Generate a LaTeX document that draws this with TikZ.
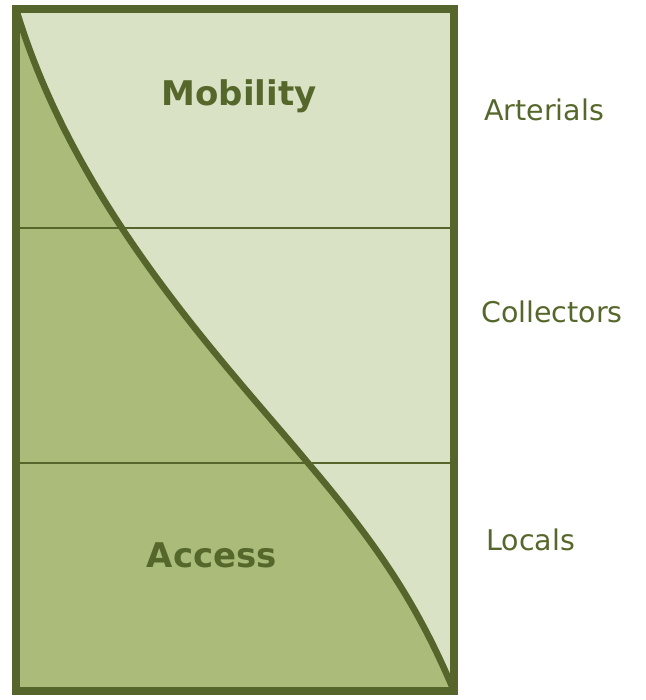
\documentclass[tikz,border=0pt]{standalone}
\usepackage{fontspec}
\setmainfont{DejaVu Sans}
\definecolor{lightfill}{HTML}{D9E2C4}
\definecolor{darkfill}{HTML}{ABBC7A}
\definecolor{edge}{HTML}{55652B}
\definecolor{ink}{HTML}{56672C}
\tikzset{
  biglabel/.style={text=ink, font=\fontsize{34}{39}\selectfont\bfseries, inner sep=0pt},
  sidelabel/.style={text=ink, font=\fontsize{28.5}{33}\selectfont, inner sep=0pt, anchor=west},
  divider/.style={draw=edge, line width=2.2pt},
  frame/.style={draw=edge, line width=8pt},
  curve/.style={draw=edge, line width=6.5pt}
}
\begin{document}
\begin{tikzpicture}[x=1pt,y=-1pt]
\useasboundingbox (0,0) rectangle (645,700);
\coordinate (tl) at (16,9);
\coordinate (br) at (454,691);
\coordinate (bl) at (16,691);
\coordinate (mid) at (308,463);
\fill[lightfill] (tl) rectangle (br);
\fill[darkfill] (bl) -- (tl) .. controls (76,209) and (225,363) .. (mid) .. controls (384.5,553) and (420,611) .. (br) -- cycle;
\coordinate (d1l) at (16,228);
\coordinate (d1r) at (454,228);
\coordinate (d2l) at (16,463);
\coordinate (d2r) at (454,463);
\draw[divider] (d1l) -- (d1r);
\draw[divider] (d2l) -- (d2r);
\draw[curve] (tl) .. controls (76,209) and (225,363) .. (mid) .. controls (384.5,553) and (420,611) .. (br);
\draw[frame] (tl) rectangle (br);
\node[biglabel] (mob) at (239,96) {Mobility};
\node[biglabel] (acc) at (212,555) {Access};
\node[sidelabel] (art) at (484,110) {Arterials};
\node[sidelabel] (col) at (481,312) {Collectors};
\node[sidelabel] (loc) at (486,540) {Locals};
\end{tikzpicture}
\end{document}
